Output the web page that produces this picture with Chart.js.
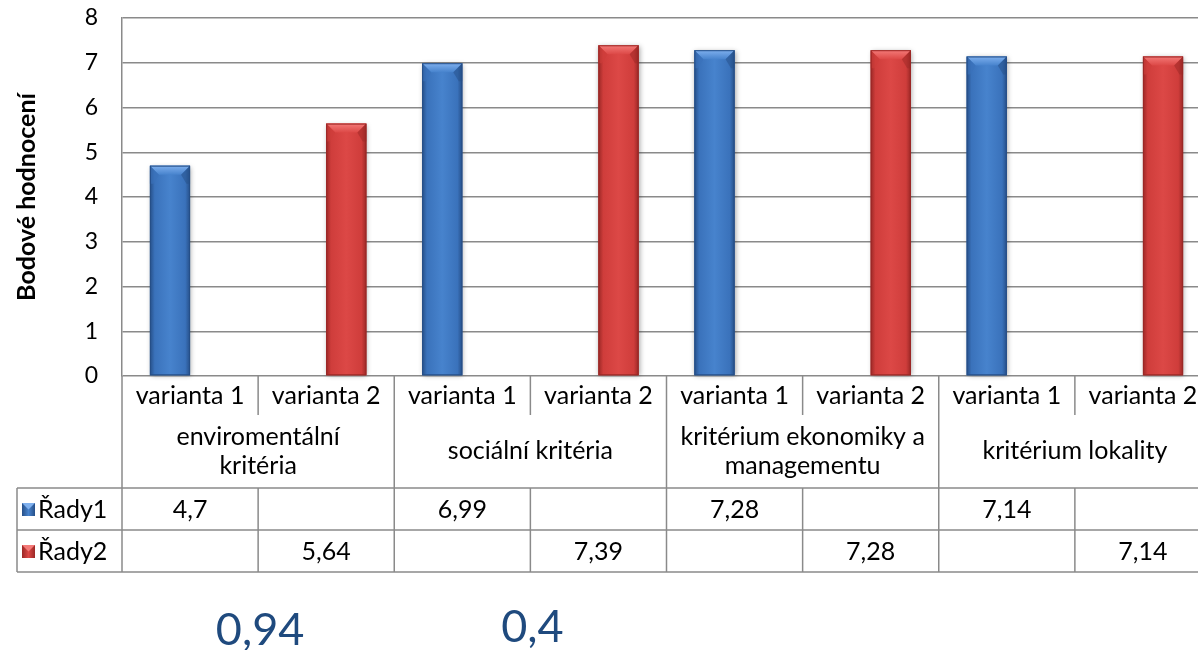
<!DOCTYPE html>
<html>
<head>
<meta charset="utf-8">
<script src="https://cdn.jsdelivr.net/npm/chart.js@4.4.1/dist/chart.umd.min.js"></script>
<style>
  html, body { margin: 0; padding: 0; background: #fff; overflow: hidden; }
  #wrap { position: relative; width: 1222px; height: 650px; }
</style>
</head>
<body>
<div id="wrap"><canvas id="c"></canvas></div>
<script>
// ---- data ----
const categories = ['varianta 1', 'varianta 2', 'varianta 1', 'varianta 2', 'varianta 1', 'varianta 2', 'varianta 1', 'varianta 2'];
const groupLabels = [['enviromentální', 'kritéria'], ['sociální kritéria'], ['kritérium ekonomiky a', 'managementu'], ['kritérium lokality']];
const seriesNames = ['Řady1', 'Řady2'];
const series1 = [4.7, null, 6.99, null, 7.28, null, 7.14, null];
const series2 = [null, 5.64, null, 7.39, null, 7.28, null, 7.14];
const yTicks = [0, 1, 2, 3, 4, 5, 6, 7, 8];
const yTitle = 'Bodové hodnocení';
const notes = ['0,94', '0,4'];

const FONT = 'Lato, "Open Sans", sans-serif';
const GRID = '#8a8a8a';
const palette = [
  { dark: '#264f88', mid: '#3a72bb', light: '#4783cd', top: '#7fb0ee', solid: '#3a72bb' },
  { dark: '#9b2826', mid: '#cf3d3b', light: '#dc4846', top: '#f47a78', solid: '#cf3d3b' }
];

const fmt = v => (v === null || v === undefined) ? '' : String(v).replace('.', ',');

const bevelPlugin = {
  id: 'bevel',
  afterDatasetsDraw(chart) {
    const ctx = chart.ctx;
    chart.data.datasets.forEach((ds, di) => {
      const meta = chart.getDatasetMeta(di);
      const p = palette[di];
      meta.data.forEach((el, i) => {
        if (ds.data[i] === null) return;
        const { x, y, base, width } = el.getProps(['x', 'y', 'base', 'width'], true);
        const l = x - width / 2, r = x + width / 2, t = y, b = base;
        ctx.save();
        ctx.shadowColor = 'rgba(0,0,0,0.35)';
        ctx.shadowBlur = 5;
        ctx.shadowOffsetX = 1;
        ctx.shadowOffsetY = 1;
        const g = ctx.createLinearGradient(l, 0, r, 0);
        g.addColorStop(0, p.dark);
        g.addColorStop(0.12, p.mid);
        g.addColorStop(0.5, p.light);
        g.addColorStop(0.88, p.mid);
        g.addColorStop(1, p.dark);
        ctx.fillStyle = g;
        ctx.fillRect(l, t, width, b - t);
        ctx.restore();
        const bv = Math.min(9, width / 4);
        ctx.save();
        ctx.beginPath();
        ctx.moveTo(l, t); ctx.lineTo(r, t); ctx.lineTo(r - bv, t + bv); ctx.lineTo(l + bv, t + bv); ctx.closePath();
        const tg = ctx.createLinearGradient(0, t, 0, t + bv);
        tg.addColorStop(0, p.top);
        tg.addColorStop(1, p.light);
        ctx.fillStyle = tg;
        ctx.fill();
        ctx.beginPath();
        ctx.moveTo(l, t); ctx.lineTo(l + bv, t + bv); ctx.lineTo(l + bv * 0.4, t + bv * 2); ctx.lineTo(l, t + bv * 2); ctx.closePath();
        ctx.fillStyle = p.mid;
        ctx.globalAlpha = 0.6;
        ctx.fill();
        ctx.beginPath();
        ctx.moveTo(r, t); ctx.lineTo(r - bv, t + bv); ctx.lineTo(r - bv * 0.4, t + bv * 2); ctx.lineTo(r, t + bv * 2); ctx.closePath();
        ctx.fillStyle = p.dark;
        ctx.globalAlpha = 0.5;
        ctx.fill();
        ctx.globalAlpha = 1;
        ctx.strokeStyle = p.dark;
        ctx.lineWidth = 1;
        ctx.strokeRect(l + 0.5, t + 0.5, width - 1, b - t - 1);
        ctx.restore();
      });
    });
  }
};

function legendKey(ctx, x, y, s, p) {
  const g = ctx.createLinearGradient(x, 0, x + s, 0);
  g.addColorStop(0, p.dark); g.addColorStop(0.5, p.light); g.addColorStop(1, p.dark);
  ctx.fillStyle = g;
  ctx.fillRect(x, y, s, s);
  ctx.beginPath();
  ctx.moveTo(x, y); ctx.lineTo(x + s, y); ctx.lineTo(x + s / 2, y + s / 2); ctx.closePath();
  ctx.fillStyle = p.top;
  ctx.fill();
}

const tablePlugin = {
  id: 'dataTable',
  afterDraw(chart) {
    const ctx = chart.ctx;
    const xs = chart.scales.x;
    const area = chart.chartArea;
    const catW = xs.getPixelForValue(1) - xs.getPixelForValue(0);
    const edge = i => xs.getPixelForValue(0) - catW / 2 + i * catW;
    const y0 = area.bottom;
    const yVarEnd = y0 + 36;
    const yGrp = y0 + 112;
    const yR1 = yGrp + 42;
    const yR2 = yR1 + 42;
    const tableLeft = 17;
    const right = edge(categories.length);

    ctx.save();
    ctx.strokeStyle = GRID;
    ctx.lineWidth = 1.5;
    const line = (x1, y1, x2, y2) => { ctx.beginPath(); ctx.moveTo(x1, y1); ctx.lineTo(x2, y2); ctx.stroke(); };
    line(tableLeft, yGrp, right, yGrp);
    line(tableLeft, yR1, right, yR1);
    line(tableLeft, yR2, right, yR2);
    line(tableLeft, yGrp, tableLeft, yR2);
    for (let i = 0; i <= categories.length; i++) {
      const x = edge(i);
      if (i % 2 === 0) {
        line(x, y0, x, yR2);
      } else {
        line(x, y0, x, yVarEnd + 3);
        line(x, yGrp, x, yR2);
      }
    }

    ctx.fillStyle = '#000';
    ctx.font = '25px ' + FONT;
    ctx.textAlign = 'center';
    ctx.textBaseline = 'middle';
    categories.forEach((c, i) => ctx.fillText(c, xs.getPixelForValue(i), (y0 + yVarEnd) / 2 + 2));
    groupLabels.forEach((lines, gi) => {
      const cx = (edge(gi * 2) + edge(gi * 2 + 2)) / 2;
      const cy = (yVarEnd + yGrp) / 2 + 1;
      const lh = 29;
      lines.forEach((t, li) => ctx.fillText(t, cx, cy + (li - (lines.length - 1) / 2) * lh));
    });
    [series1, series2].forEach((s, si) => {
      const cy = (si === 0 ? (yGrp + yR1) / 2 : (yR1 + yR2) / 2) + 1;
      s.forEach((v, i) => { if (v !== null) ctx.fillText(fmt(v), xs.getPixelForValue(i), cy); });
      legendKey(ctx, 22, cy - 7, 13, palette[si]);
      ctx.textAlign = 'left';
      ctx.fillStyle = '#000';
      ctx.fillText(seriesNames[si], 38, cy);
      ctx.textAlign = 'center';
    });

    ctx.fillStyle = '#1f4a7e';
    ctx.font = '45px ' + FONT;
    notes.forEach((n, gi) => {
      const cx = (edge(gi * 2) + edge(gi * 2 + 2)) / 2;
      ctx.fillText(n, cx + 2, yR2 + 58 - gi * 3);
    });
    ctx.restore();
  }
};

new Chart(document.getElementById('c'), {
  type: 'bar',
  data: {
    labels: categories,
    datasets: [
      { label: seriesNames[0], data: series1, backgroundColor: palette[0].solid, borderWidth: 0 },
      { label: seriesNames[1], data: series2, backgroundColor: palette[1].solid, borderWidth: 0 }
    ]
  },
  options: {
    responsive: true,
    maintainAspectRatio: false,
    animation: false,
    events: [],
    categoryPercentage: 0.59,
    barPercentage: 1,
    layout: { padding: { top: 18, right: 11, bottom: 274, left: 0 } },
    plugins: { legend: { display: false }, tooltip: { enabled: false } },
    scales: {
      x: { display: false },
      y: {
        min: 0, max: 8,
        afterFit: s => { s.width = 122; },
        afterBuildTicks: s => { s.ticks = yTicks.map(v => ({ value: v })); },
        ticks: { font: { family: FONT, size: 23 }, color: '#000', padding: 2 },
        grid: { color: GRID, lineWidth: 1.5, drawTicks: true, tickLength: 22, tickColor: 'rgba(0,0,0,0)' },
        border: { color: GRID, width: 1.5 },
        title: { display: true, text: yTitle, color: '#000', font: { family: FONT, size: 25, weight: 'bold' }, padding: { top: 12, bottom: 0 } }
      }
    }
  },
  plugins: [bevelPlugin, tablePlugin]
});
</script>
</body>
</html>
